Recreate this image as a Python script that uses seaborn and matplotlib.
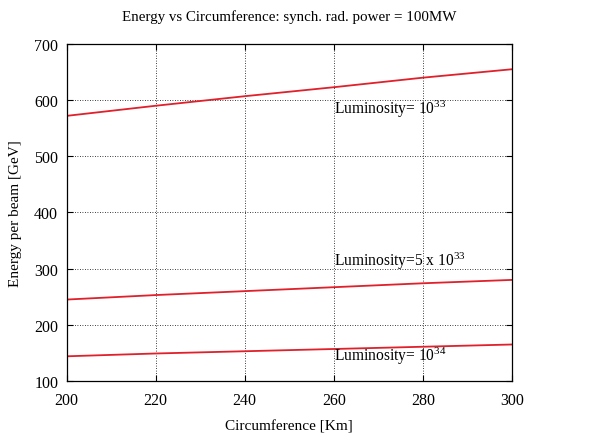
import numpy as np
import pandas as pd
import matplotlib
matplotlib.use("Agg")
import matplotlib.pyplot as plt
import seaborn as sns

# Werte
circumference = [200, 220, 240, 260, 280, 300]
energy_lumi_1e33 = [572, 590, 607, 623, 640, 655]
energy_lumi_5e33 = [245, 253, 260, 267, 274, 280]
energy_lumi_1e34 = [144, 149, 153, 157, 161, 165]

labels = ["Luminosity= $10^{33}$", "Luminosity=5 x $10^{33}$", "Luminosity= $10^{34}$"]
label_pos = [(260, 586), (260, 315), (260, 146)]

sns.set_style("ticks")
plt.rcParams["font.family"] = ["Liberation Serif", "DejaVu Serif"]
plt.rcParams["mathtext.fontset"] = "custom"
plt.rcParams["mathtext.rm"] = "Liberation Serif"
plt.rcParams["mathtext.it"] = "Liberation Serif"
for k in ["text.color", "axes.labelcolor", "xtick.color", "ytick.color", "axes.edgecolor"]:
    plt.rcParams[k] = "black"

df = pd.DataFrame({
    "C": circumference * 3,
    "E": energy_lumi_1e33 + energy_lumi_5e33 + energy_lumi_1e34,
    "series": ["a"] * 6 + ["b"] * 6 + ["c"] * 6,
})

fig = plt.figure(figsize=(6.13, 4.35), dpi=100)
ax = fig.add_axes([0.1085, 0.1218, 0.7265, 0.7748])

sns.lineplot(data=df, x="C", y="E", hue="series",
             palette=["#e0202a"] * 3, linewidth=1.3, legend=False, ax=ax)

for txt, (x, y) in zip(labels, label_pos):
    ax.text(x, y, txt, fontsize=11.2, va="center", ha="left")

ax.set_xlim(200, 300)
ax.set_ylim(100, 700)
ax.set_xticks(np.arange(200, 301, 20))
ax.set_yticks(np.arange(100, 701, 100))
ax.grid(True, color="black", linestyle=(0, (1, 2)), linewidth=0.6)
ax.tick_params(direction="in", top=True, right=True, labelsize=11.5, length=4, width=0.8)
ax.tick_params(axis="x", pad=8)
ax.tick_params(axis="y", pad=6)
for s in ax.spines.values():
    s.set_linewidth(0.9)

ax.set_xlabel("Circumference [Km]", fontsize=11, labelpad=8)
ax.set_ylabel("Energy per beam [GeV]", fontsize=11, labelpad=9)
ax.set_title("Energy vs Circumference: synch. rad. power = 100MW", fontsize=10.8, pad=17)

fig.savefig("out.png", dpi=100)
